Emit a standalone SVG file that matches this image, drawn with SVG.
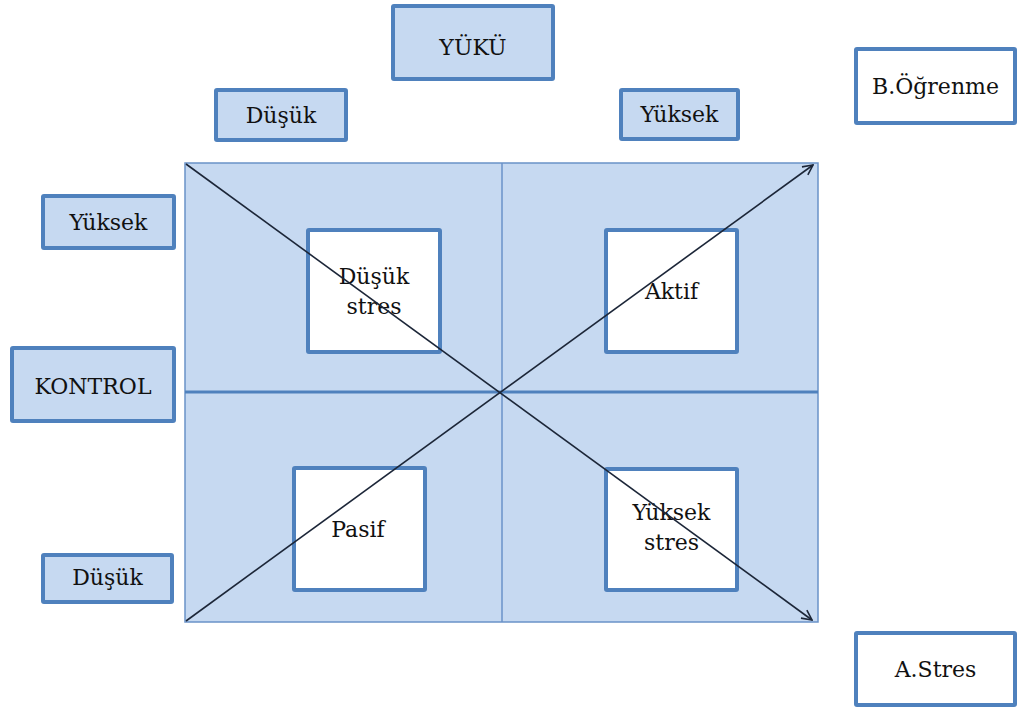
<svg xmlns="http://www.w3.org/2000/svg" width="1019" height="710" viewBox="0 0 1019 710">
  <style>
    text { font-family: 'DejaVu Serif', 'Liberation Serif', serif; font-size: 22px; fill: #111; text-anchor: middle; }
    .tag { fill: #C6D9F1; stroke: #4F81BD; stroke-width: 4; }
    .cell { fill: #FFFFFF; stroke: #4F81BD; stroke-width: 4; }
    .out { fill: #FFFFFF; stroke: #4F81BD; stroke-width: 4; }
    .axis { fill: none; stroke: #1C2638; stroke-width: 1.6; marker-end: url(#open); }
  </style>
  <defs>
    <marker id="open" viewBox="0 0 12 12" refX="11" refY="6" markerWidth="12" markerHeight="12" markerUnits="userSpaceOnUse" orient="auto">
      <path d="M1,1 L11,6 L1,11" fill="none" stroke="#1C2638" stroke-width="1.6"/>
    </marker>
  </defs>
  <rect width="1019" height="710" fill="#FFFFFF"/>

  <!-- quadrant grid -->
  <g id="grid">
    <rect x="185" y="163" width="633" height="459" fill="#C6D9F1" stroke="#6A92C8" stroke-width="1.5"/>
    <line x1="502" y1="163" x2="502" y2="622" stroke="#6A92C8" stroke-width="1.5"/>
    <line x1="185" y1="392" x2="818" y2="392" stroke="#4F81BD" stroke-width="3"/>
  </g>

  <!-- axis headings -->
  <g id="yuku">
    <rect class="tag" x="393" y="6" width="160" height="73" rx="1"/>
    <text x="473" y="55">YÜKÜ</text>
  </g>
  <g id="yuku-dusuk">
    <rect class="tag" x="216" y="90" width="130" height="50" rx="1"/>
    <text x="281" y="123">Düşük</text>
  </g>
  <g id="yuku-yuksek">
    <rect class="tag" x="621" y="90" width="117" height="49" rx="1"/>
    <text x="679.5" y="122">Yüksek</text>
  </g>
  <g id="kontrol">
    <rect class="tag" x="12" y="348" width="162" height="73" rx="1"/>
    <text x="93" y="394">KONTROL</text>
  </g>
  <g id="kontrol-yuksek">
    <rect class="tag" x="43" y="196" width="131" height="52" rx="1"/>
    <text x="108.5" y="230">Yüksek</text>
  </g>
  <g id="kontrol-dusuk">
    <rect class="tag" x="43" y="555" width="129" height="47" rx="1"/>
    <text x="107.5" y="585">Düşük</text>
  </g>

  <!-- quadrant cells -->
  <g id="dusuk-stres">
    <rect class="cell" x="308" y="230" width="132" height="122" rx="1"/>
    <text x="374" y="284">Düşük</text>
    <text x="374" y="314">stres</text>
  </g>
  <g id="aktif">
    <rect class="cell" x="606" y="230" width="131" height="122" rx="1"/>
    <text x="671.5" y="299">Aktif</text>
  </g>
  <g id="pasif">
    <rect class="cell" x="294" y="468" width="131" height="122" rx="1"/>
    <text x="358" y="537">Pasif</text>
  </g>
  <g id="yuksek-stres">
    <rect class="cell" x="606" y="469" width="131" height="121" rx="1"/>
    <text x="671.5" y="520">Yüksek</text>
    <text x="671.5" y="550">stres</text>
  </g>

  <!-- diagonal outcomes -->
  <g id="b-ogrenme">
    <rect class="out" x="856" y="49" width="159" height="74" rx="1"/>
    <text x="935.5" y="94">B.Öğrenme</text>
  </g>
  <g id="a-stres">
    <rect class="out" x="856" y="633" width="159" height="72" rx="1"/>
    <text x="935.5" y="677">A.Stres</text>
  </g>

  <!-- diagonal axes -->
  <g id="connectors">
    <line class="axis" x1="186" y1="164" x2="812" y2="620"/>
    <line class="axis" x1="186" y1="621" x2="813" y2="165"/>
  </g>
</svg>
